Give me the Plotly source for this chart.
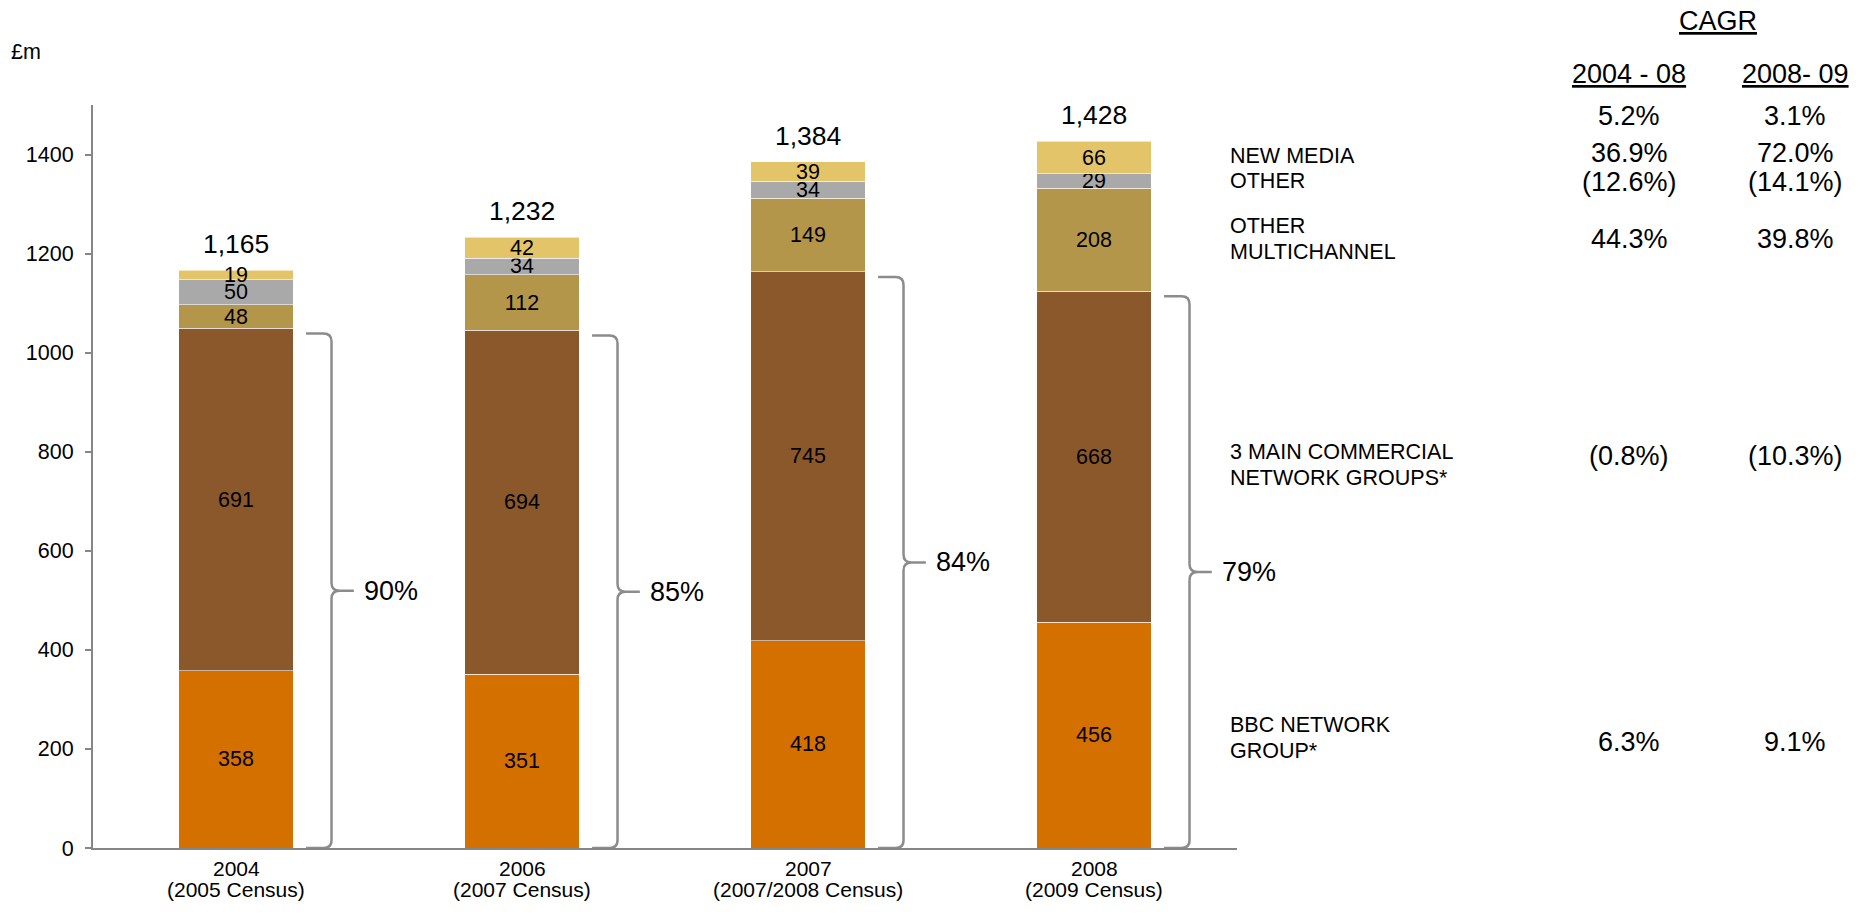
import plotly.graph_objects as go

# ---- data -------------------------------------------------------------
years = ["2004", "2006", "2007", "2008"]
census = ["(2005 Census)", "(2007 Census)", "(2007/2008 Census)", "(2009 Census)"]

bbc_network = [358, 351, 418, 456]
main_commercial = [691, 694, 745, 668]
other_multichannel = [48, 112, 149, 208]
other = [50, 34, 34, 29]
new_media = [19, 42, 39, 66]

totals_text = ["1,165", "1,232", "1,384", "1,428"]
share_text = ["90%", "85%", "84%", "79%"]

series_names = ["BBC NETWORK GROUP*", "3 MAIN COMMERCIAL NETWORK GROUPS*",
                "OTHER MULTICHANNEL", "OTHER", "NEW MEDIA"]
series_values = [bbc_network, main_commercial, other_multichannel, other, new_media]
series_colors = ["#D47000", "#8A582A", "#B3964A", "#A9A9A9", "#E4C468"]

# CAGR table
cagr_periods = ["2004 - 08", "2008- 09"]
cagr_total = ["5.2%", "3.1%"]
cagr_new_media = ["36.9%", "72.0%"]
cagr_other = ["(12.6%)", "(14.1%)"]
cagr_multichannel = ["44.3%", "39.8%"]
cagr_commercial = ["(0.8%)", "(10.3%)"]
cagr_bbc = ["6.3%", "9.1%"]

# ---- page geometry ----------------------------------------------------
FONT = "Liberation Sans, Arial, sans-serif"
W, H = 1864, 922
ML, MR, MT, MB = 93, 627, 105, 74
PW, PH = W - ML - MR, H - MT - MB
Y_MAX = 1500
UNITS_PER_PX = Y_MAX / PH


def fx(px):
    return (px - ML) / PW


def fy(py):
    return (H - MB - py) / PH


def txt(size):
    return dict(family=FONT, size=size, color="#000000")


x = list(range(len(years)))
fig = go.Figure()

for name, vals, col in zip(series_names, series_values, series_colors):
    fig.add_trace(go.Bar(
        x=x, y=vals, name=name, width=0.4,
        marker=dict(color=col, line=dict(color="rgba(255,255,255,0.55)", width=1)),
        text=[str(v) for v in vals], texttemplate="%{text}",
        textposition="inside", insidetextanchor="middle", textangle=0,
        constraintext="none",
        textfont=txt(21.5),
        hoverinfo="skip",
    ))

annotations = []
shapes = []

# totals above each stack
stack_tops = [sum(v[i] for v in series_values) for i in x]
for i in x:
    annotations.append(dict(x=i, y=stack_tops[i], xref="x", yref="y",
                            text=totals_text[i], showarrow=False,
                            xanchor="center", yanchor="middle", yshift=26,
                            font=txt(26.5)))

# curly braces spanning BBC + 3 main commercial groups
ry = 8 * UNITS_PER_PX
rx = 0.028
inset = 5 * UNITS_PER_PX
for i in x:
    top = bbc_network[i] + main_commercial[i] - inset
    mid = top / 2.0
    x0, x1, x2 = i + 0.245, i + 0.334, i + 0.412
    path = (f"M {x0},{top} L {x1 - rx},{top} Q {x1},{top} {x1},{top - ry} "
            f"L {x1},{mid + ry} Q {x1},{mid} {x1 + rx},{mid} L {x2},{mid} "
            f"M {x1 + rx},{mid} Q {x1},{mid} {x1},{mid - ry} "
            f"L {x1},{ry} Q {x1},0 {x1 - rx},0 L {x0},0")
    shapes.append(dict(type="path", path=path, xref="x", yref="y",
                       line=dict(color="#8C8C8C", width=2.5)))
    annotations.append(dict(x=i + 0.44, y=mid, xref="x", yref="y",
                            text=share_text[i], showarrow=False,
                            xanchor="left", yanchor="middle", font=txt(27)))

# category labels under the axis
for i in x:
    annotations.append(dict(x=i, y=fy(868), xref="x", yref="paper", text=years[i],
                            showarrow=False, xanchor="center", yanchor="middle",
                            font=txt(21)))
    annotations.append(dict(x=i, y=fy(889), xref="x", yref="paper", text=census[i],
                            showarrow=False, xanchor="center", yanchor="middle",
                            font=txt(21)))

# unit label
annotations.append(dict(x=fx(9), y=fy(52), xref="paper", yref="paper", text="£m",
                        showarrow=False, xanchor="left", yanchor="middle",
                        font=txt(21.5)))

# segment names on the right, one line at a time
side_lines = [
    ("NEW MEDIA", 156),
    ("OTHER", 181),
    ("OTHER", 226),
    ("MULTICHANNEL", 252),
    ("3 MAIN COMMERCIAL", 452),
    ("NETWORK GROUPS*", 478),
    ("BBC NETWORK", 725),
    ("GROUP*", 751),
]
for line, py in side_lines:
    annotations.append(dict(x=fx(1228), y=fy(py), xref="paper", yref="paper",
                            text=line, showarrow=False, xanchor="left",
                            yanchor="middle", font=txt(21.5)))

# CAGR table
col_x = [1629, 1795]
annotations.append(dict(x=fx(1718), y=fy(21), xref="paper", yref="paper",
                        text="<u>CAGR</u>", showarrow=False,
                        xanchor="center", yanchor="middle", font=txt(27)))
for c, cx in enumerate(col_x):
    annotations.append(dict(x=fx(cx), y=fy(74), xref="paper", yref="paper",
                            text=f"<u>{cagr_periods[c]}</u>", showarrow=False,
                            xanchor="center", yanchor="middle", font=txt(27)))
    for col_vals, py in [(cagr_total, 116), (cagr_new_media, 153), (cagr_other, 182),
                         (cagr_multichannel, 239), (cagr_commercial, 456),
                         (cagr_bbc, 742)]:
        annotations.append(dict(x=fx(cx), y=fy(py), xref="paper", yref="paper",
                                text=col_vals[c], showarrow=False,
                                xanchor="center", yanchor="middle", font=txt(27)))

fig.update_layout(
    width=W, height=H,
    margin=dict(l=ML, r=MR, t=MT, b=MB, pad=0),
    barmode="stack",
    showlegend=False,
    plot_bgcolor="#FFFFFF",
    paper_bgcolor="#FFFFFF",
    font=txt(21),
    annotations=annotations,
    shapes=shapes,
    xaxis=dict(range=[-0.5, 3.5], showline=True, linecolor="#868686", linewidth=2,
               showticklabels=False, ticks="", showgrid=False, zeroline=False,
               fixedrange=True),
    yaxis=dict(range=[0, Y_MAX], tickvals=[0, 200, 400, 600, 800, 1000, 1200, 1400],
               showline=True, linecolor="#868686", linewidth=2,
               ticks="outside", ticklen=6, tickwidth=2, tickcolor="#868686",
               ticklabelstandoff=7,
               tickfont=txt(21.5),
               showgrid=False, zeroline=False, fixedrange=True),
)

fig.write_html("out.html")
